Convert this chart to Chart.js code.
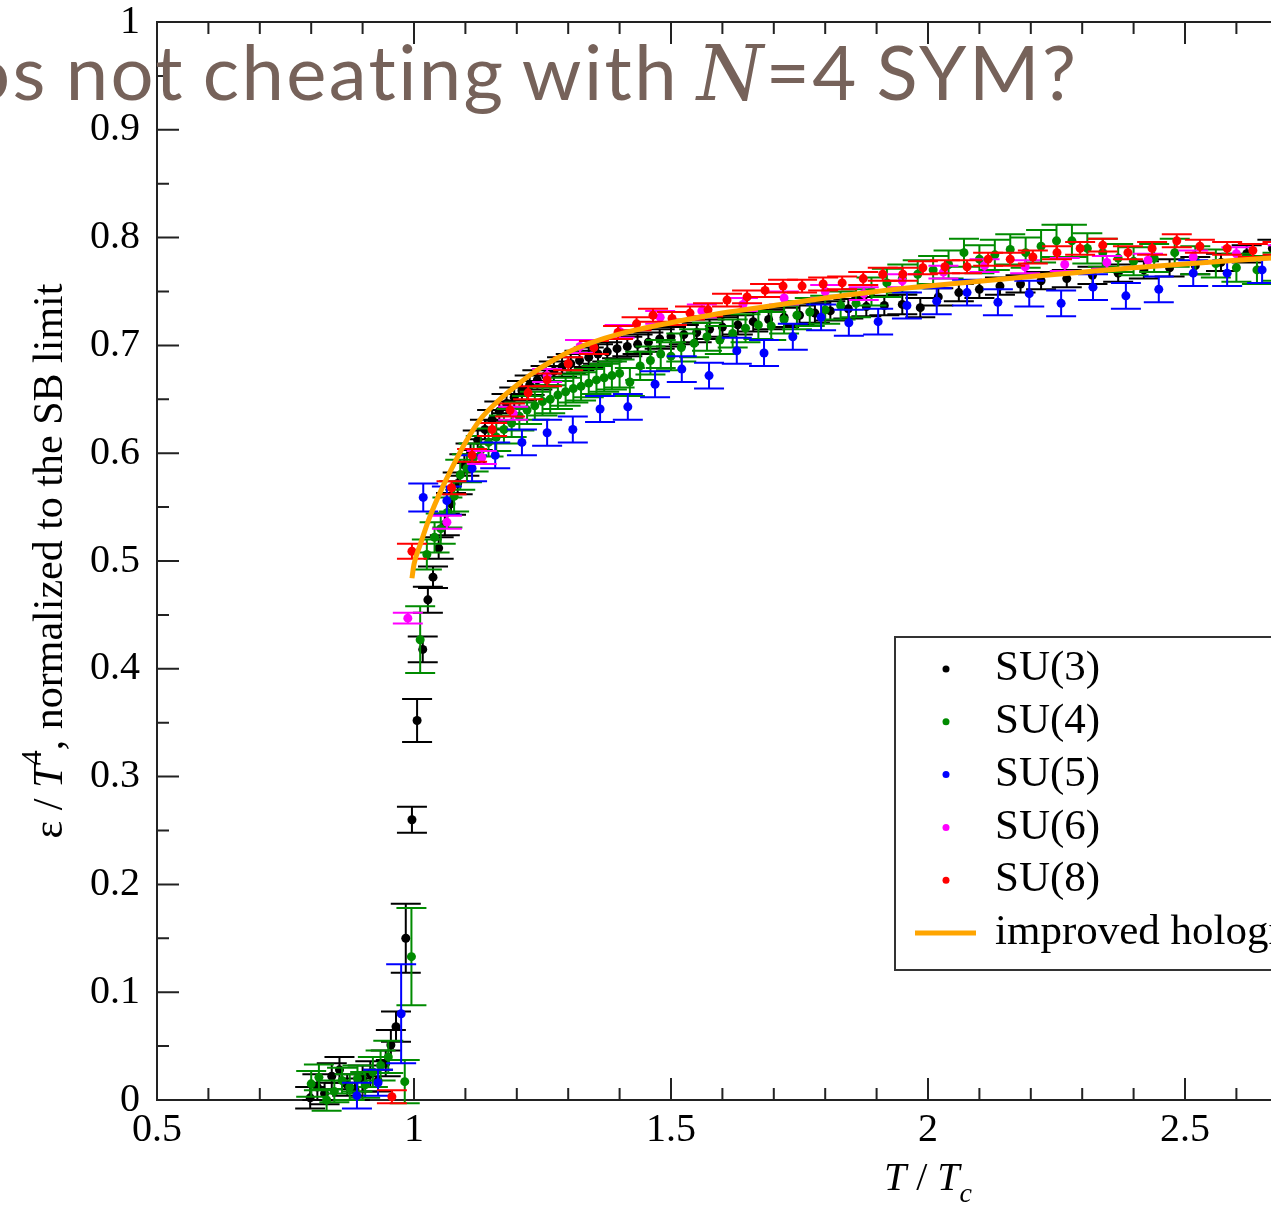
<!DOCTYPE html>
<html>
<head>
<meta charset="utf-8">
<script src="https://cdn.jsdelivr.net/npm/chart.js@4.4.1/dist/chart.umd.min.js"></script>
<style>
  html, body { margin: 0; padding: 0; background: #fff; overflow: hidden; }
  #plot { position: absolute; left: 0; top: 0; }
  #headline {
    position: absolute; left: -33px; top: 33px;
    font-family: Lato, "Open Sans", sans-serif; font-size: 76px; line-height: 76px;
    color: #76625a; white-space: nowrap; letter-spacing: 2.4px; word-spacing: -4px;
  }
  #headline i { font-family: "DejaVu Serif", serif; font-weight: 300; }
</style>
</head>
<body>
<canvas id="plot" width="1729" height="1207"></canvas>
<div id="headline">os not cheating with <i>N</i>=4 SYM?</div>
<script>
// tick positions
const xTicks = [0.5, 1, 1.5, 2, 2.5, 3, 3.5];
const yTicks = [0, 0.1, 0.2, 0.3, 0.4, 0.5, 0.6, 0.7, 0.8, 0.9, 1];

// SU(3)
const su3T = [0.798,0.812,0.826,0.84,0.855,0.87,0.885,0.90,0.915,0.93,0.945,0.955,0.965,0.984,0.996,1.006,1.017,1.027,1.037,1.048,
  1.06,1.072,1.085,1.098,1.11,1.124,1.138,1.152,1.166,1.18,1.195,1.21,1.225,1.24,1.256,1.272,1.288,1.305,1.322,1.34,
  1.358,1.376,1.395,1.415,1.435,1.456,1.478,1.50,1.525,1.55,1.575,1.60,1.63,1.66,1.69,1.72,1.75,1.78,1.81,1.845,
  1.88,1.915,1.95,1.985,2.02,2.06,2.10,2.14,2.18,2.22,2.27,2.32,2.37,2.42,2.47,2.52,2.57,2.62,2.67,2.72];
const su3E = [0.002,0.012,0.006,0.022,0.028,0.014,0.010,0.020,0.024,0.018,0.034,0.051,0.068,0.150,0.260,0.352,0.418,0.464,0.485,0.512,
  0.534,0.553,0.572,0.589,0.600,0.612,0.622,0.631,0.639,0.646,0.652,0.658,0.663,0.668,0.672,0.676,0.680,0.683,0.686,0.689,
  0.692,0.694,0.697,0.699,0.701,0.703,0.706,0.708,0.710,0.712,0.715,0.717,0.719,0.722,0.724,0.726,0.728,0.730,0.732,0.734,
  0.736,0.737,0.738,0.735,0.745,0.749,0.752,0.755,0.757,0.760,0.762,0.765,0.767,0.770,0.772,0.774,0.777,0.785,0.790,0.782];
const su3Err = [0.010,0.012,0.010,0.012,0.012,0.010,0.010,0.012,0.012,0.010,0.012,0.014,0.014,0.032,0.012,0.020,0.012,0.012,0.010,0.010,
  0.010,0.010,0.010,0.010,0.009,0.009,0.009,0.009,0.009,0.009,0.009,0.009,0.009,0.009,0.009,0.009,0.009,0.009,0.009,0.009,
  0.009,0.009,0.009,0.009,0.009,0.009,0.009,0.009,0.009,0.009,0.009,0.009,0.009,0.009,0.009,0.009,0.009,0.009,0.009,0.009,
  0.009,0.009,0.009,0.009,0.008,0.008,0.008,0.008,0.008,0.008,0.008,0.008,0.008,0.008,0.008,0.008,0.008,0.008,0.008,0.008];

// SU(4)
const su4T = [0.80,0.815,0.83,0.845,0.86,0.875,0.89,0.905,0.92,0.935,0.95,0.982,0.995,1.012,1.025,1.04,1.052,1.065,1.078,1.09,
  1.103,1.116,1.13,1.145,1.16,1.175,1.19,1.205,1.22,1.235,1.25,1.265,1.28,1.295,1.31,1.325,1.34,1.355,1.37,1.385,
  1.40,1.42,1.44,1.46,1.48,1.50,1.52,1.545,1.57,1.595,1.62,1.645,1.67,1.695,1.72,1.745,1.77,1.80,1.83,1.86,
  1.89,1.92,1.95,1.98,2.01,2.04,2.07,2.10,2.13,2.16,2.19,2.22,2.25,2.28,2.31,2.34,2.37,2.40,2.44,2.48,
  2.52,2.56,2.60,2.64,2.68,2.72];
const su4E = [0.015,0.021,0.000,0.008,0.018,0.012,0.020,0.014,0.026,0.032,0.040,0.017,0.133,0.427,0.506,0.522,0.530,0.545,0.560,0.580,
  0.586,0.596,0.603,0.610,0.615,0.622,0.628,0.634,0.640,0.644,0.648,0.650,0.654,0.657,0.660,0.662,0.665,0.668,0.670,0.672,
  0.674,0.666,0.681,0.686,0.692,0.690,0.698,0.702,0.708,0.705,0.711,0.716,0.719,0.718,0.724,0.728,0.731,0.733,0.737,0.739,
  0.750,0.758,0.762,0.766,0.770,0.775,0.786,0.780,0.784,0.789,0.786,0.792,0.797,0.797,0.790,0.786,0.781,0.778,0.781,0.786,
  0.779,0.776,0.772,0.770,0.773,0.771];
const su4Err = [0.012,0.012,0.010,0.010,0.012,0.012,0.012,0.012,0.014,0.014,0.015,0.020,0.045,0.031,0.014,0.014,0.014,0.014,0.014,0.014,
  0.013,0.013,0.013,0.013,0.013,0.013,0.013,0.013,0.013,0.013,0.013,0.013,0.013,0.013,0.013,0.013,0.013,0.013,0.013,0.013,
  0.013,0.013,0.013,0.013,0.013,0.013,0.013,0.013,0.013,0.013,0.013,0.013,0.013,0.013,0.013,0.013,0.013,0.013,0.013,0.013,
  0.013,0.013,0.013,0.013,0.013,0.013,0.013,0.013,0.014,0.014,0.014,0.015,0.015,0.015,0.014,0.013,0.013,0.013,0.013,0.013,
  0.013,0.013,0.013,0.013,0.013,0.013];

// SU(5)
const su5T = [0.889,0.930,0.975,1.018,1.064,1.113,1.158,1.210,1.259,1.309,1.362,1.416,1.469,1.521,1.574,1.628,1.681,1.737,1.792,1.846,
  1.903,1.959,2.017,2.076,2.136,2.197,2.259,2.321,2.385,2.449,2.516,2.582,2.650,2.72];
const su5E = [0.004,0.016,0.080,0.559,0.556,0.586,0.598,0.610,0.619,0.622,0.641,0.643,0.664,0.678,0.672,0.695,0.693,0.708,0.726,0.721,
  0.722,0.737,0.741,0.749,0.740,0.748,0.739,0.754,0.746,0.752,0.767,0.767,0.770,0.772];
const su5Err = [0.012,0.012,0.046,0.013,0.013,0.012,0.012,0.012,0.012,0.012,0.012,0.012,0.012,0.012,0.012,0.012,0.012,0.012,0.012,0.012,
  0.012,0.012,0.012,0.012,0.012,0.012,0.012,0.012,0.012,0.012,0.012,0.012,0.012,0.012];

// SU(6)
const su6T = [0.988,1.064,1.132,1.193,1.259,1.323,1.40,1.479,1.56,1.64,1.72,1.80,1.875,1.95,2.03,2.11,2.189,2.266,2.348,2.428,
  2.516,2.60,2.69];
const su6E = [0.447,0.536,0.596,0.637,0.672,0.699,0.713,0.726,0.732,0.738,0.744,0.750,0.748,0.760,0.768,0.774,0.773,0.775,0.777,0.779,
  0.782,0.785,0.787];
const su6Err = [0.005,0.006,0.006,0.006,0.006,0.006,0.006,0.006,0.006,0.006,0.006,0.006,0.006,0.006,0.006,0.006,0.006,0.006,0.006,0.006,
  0.006,0.006,0.006];

// SU(8)
const su8T = [0.957,0.996,1.073,1.113,1.152,1.187,1.222,1.259,1.30,1.35,1.397,1.433,1.465,1.502,1.537,1.572,1.609,1.648,1.683,1.718,
  1.755,1.796,1.833,1.874,1.912,1.951,1.990,2.033,2.076,2.117,2.16,2.204,2.251,2.296,2.34,2.389,2.436,2.484,2.529,2.582,
  2.632,2.68];
const su8E = [0.003,0.509,0.568,0.598,0.622,0.640,0.656,0.668,0.683,0.698,0.712,0.720,0.728,0.725,0.730,0.733,0.742,0.745,0.751,0.755,
  0.755,0.757,0.758,0.762,0.766,0.766,0.772,0.773,0.773,0.780,0.780,0.782,0.786,0.790,0.793,0.786,0.790,0.797,0.792,0.790,
  0.788,0.790];
const su8Err = [0.006,0.007,0.006,0.006,0.006,0.006,0.006,0.006,0.006,0.006,0.006,0.006,0.006,0.006,0.006,0.006,0.006,0.006,0.006,0.006,
  0.006,0.006,0.006,0.006,0.006,0.006,0.006,0.006,0.006,0.006,0.006,0.006,0.006,0.006,0.006,0.006,0.006,0.006,0.006,0.006,
  0.006,0.006];

// improved holographic QCD curve
const holoT = [0.996,1.00,1.012,1.03,1.056,1.08,1.10,1.13,1.165,1.20,1.23,1.27,1.31,1.36,1.42,1.50,1.60,1.70,1.80,1.90,
  2.00,2.20,2.40,2.60,2.80,3.00,3.20,3.40];
const holoE = [0.484,0.497,0.515,0.540,0.569,0.592,0.610,0.632,0.649,0.663,0.674,0.686,0.696,0.705,0.713,0.721,0.730,0.737,0.744,0.750,
  0.755,0.764,0.772,0.779,0.785,0.790,0.794,0.798];

const pts = (xs, ys) => xs.map((x, i) => ({ x: x, y: ys[i] }));

const serif = '"Liberation Serif", "Times New Roman", serif';

// vertical error bars with wide caps, drawn just under each dataset's points
const errorBars = {
  id: 'errorBars',
  beforeDatasetDraw(chart, args) {
    const ds = chart.data.datasets[args.index];
    if (!ds.errors) return;
    const ys = chart.scales.y;
    const ctx = chart.ctx;
    ctx.save();
    ctx.strokeStyle = ds.borderColor;
    ctx.lineWidth = 2;
    args.meta.data.forEach((pt, i) => {
      const v = ds.data[i].y, e = ds.errors[i];
      const top = ys.getPixelForValue(v + e);
      const bot = ys.getPixelForValue(v - e);
      ctx.beginPath();
      ctx.moveTo(pt.x, top); ctx.lineTo(pt.x, bot);
      ctx.moveTo(pt.x - 15, top); ctx.lineTo(pt.x + 15, top);
      ctx.moveTo(pt.x - 15, bot); ctx.lineTo(pt.x + 15, bot);
      ctx.stroke();
    });
    ctx.restore();
  }
};

// box frame with inward ticks on all sides
const frame = {
  id: 'frame',
  beforeDatasetsDraw(chart) {
    const { ctx, chartArea: a, scales: { x, y } } = chart;
    ctx.save();
    ctx.strokeStyle = '#222';
    ctx.lineWidth = 2;
    ctx.strokeRect(a.left, a.top, a.right - a.left, a.bottom - a.top);
    ctx.beginPath();
    for (let v = 5; v <= 35; v++) {
      const px = x.getPixelForValue(v / 10);
      const len = v % 5 === 0 ? 22 : 12;
      ctx.moveTo(px, a.bottom); ctx.lineTo(px, a.bottom - len);
      ctx.moveTo(px, a.top); ctx.lineTo(px, a.top + len);
    }
    for (let v = 0; v <= 20; v++) {
      const py = y.getPixelForValue(v / 20);
      const len = v % 2 === 0 ? 22 : 12;
      ctx.moveTo(a.left, py); ctx.lineTo(a.left + len, py);
      ctx.moveTo(a.right, py); ctx.lineTo(a.right - len, py);
    }
    ctx.stroke();
    ctx.restore();
  }
};

// legend box inside the plot
const legendBox = {
  id: 'legendBox',
  afterDraw(chart) {
    const ctx = chart.ctx;
    const items = chart.data.datasets.slice().sort((a, b) => b.order - a.order);
    const left = 895, top = 637, rowH = 52.8;
    ctx.save();
    ctx.fillStyle = '#fff';
    ctx.fillRect(left, top, 620, 333);
    ctx.strokeStyle = '#333';
    ctx.lineWidth = 2;
    ctx.strokeRect(left, top, 620, 333);
    ctx.font = '43px ' + serif;
    ctx.textBaseline = 'middle';
    items.forEach((ds, i) => {
      const cy = top + 32 + i * rowH;
      if (ds.errors) {
        ctx.fillStyle = ds.backgroundColor;
        ctx.beginPath();
        ctx.arc(946, cy, 3.5, 0, Math.PI * 2);
        ctx.fill();
      } else {
        ctx.strokeStyle = ds.borderColor;
        ctx.lineWidth = 5;
        ctx.beginPath();
        ctx.moveTo(915, cy); ctx.lineTo(976, cy);
        ctx.stroke();
      }
      ctx.fillStyle = '#000';
      ctx.fillText(ds.label, 995, cy);
    });
    ctx.restore();
  }
};

// axis titles with italics, superscript and subscript
const axisTitles = {
  id: 'axisTitles',
  afterDraw(chart) {
    const ctx = chart.ctx;
    const run = (parts, cx, cy, angle) => {
      ctx.save();
      ctx.translate(cx, cy);
      ctx.rotate(angle);
      let w = 0;
      parts.forEach(p => { ctx.font = p.f; w += ctx.measureText(p.t).width; });
      let px = -w / 2;
      ctx.fillStyle = '#000';
      ctx.textBaseline = 'alphabetic';
      parts.forEach(p => {
        ctx.font = p.f;
        ctx.fillText(p.t, px, p.dy || 0);
        px += ctx.measureText(p.t).width;
      });
      ctx.restore();
    };
    const r = '40px ' + serif, it = 'italic 40px ' + serif, sm = '28px ' + serif, smi = 'italic 28px ' + serif;
    run([{ t: 'T', f: it }, { t: ' / ', f: r }, { t: 'T', f: it }, { t: 'c', f: smi, dy: 12 }], 928, 1190, 0);
    const r2 = '42px ' + serif, it2 = 'italic 42px ' + serif, sm2 = '29px ' + serif;
    run([{ t: 'ε / ', f: r2 }, { t: 'T', f: it2 }, { t: '4', f: sm2, dy: -21 }, { t: ', normalized to the SB limit', f: r2 }],
      62, 561, -Math.PI / 2);
  }
};

const dot = (label, color, xs, ys, errs, order) => ({
  label: label, data: pts(xs, ys), errors: errs,
  backgroundColor: color, borderColor: color, borderWidth: 0,
  pointRadius: 4.5, pointHoverRadius: 4.5, order: order, clip: false
});

new Chart(document.getElementById('plot'), {
  type: 'scatter',
  data: {
    datasets: [
      {
        label: 'improved holographic QCD', type: 'line', data: pts(holoT, holoE),
        borderColor: '#ffa500', backgroundColor: '#ffa500', borderWidth: 5,
        pointRadius: 0, showLine: true, cubicInterpolationMode: 'monotone', order: 0
      },
      dot('SU(8)', '#ff0000', su8T, su8E, su8Err, 1),
      dot('SU(6)', '#ff00ff', su6T, su6E, su6Err, 2),
      dot('SU(5)', '#0000ff', su5T, su5E, su5Err, 3),
      dot('SU(4)', '#008b00', su4T, su4E, su4Err, 4),
      dot('SU(3)', '#000000', su3T, su3E, su3Err, 5)
    ]
  },
  options: {
    responsive: false,
    animation: false,
    layout: { padding: { top: 22, right: 30, left: 0, bottom: 0 } },
    plugins: { legend: { display: false }, tooltip: { enabled: false } },
    scales: {
      x: {
        type: 'linear', min: 0.5, max: 3.5,
        grid: { display: false, drawTicks: false },
        border: { display: false },
        afterBuildTicks: s => { s.ticks = xTicks.map(v => ({ value: v })); },
        ticks: {
          padding: 10, color: '#000', maxRotation: 0,
          font: { family: serif, size: 40, lineHeight: 1 },
          callback: v => String(v)
        },
        afterFit: s => { s.height = 107; s.paddingLeft = 0; s.paddingRight = 0; }
      },
      y: {
        min: 0, max: 1,
        grid: { display: false, drawTicks: false },
        border: { display: false },
        afterBuildTicks: s => { s.ticks = yTicks.map(v => ({ value: v })); },
        ticks: {
          padding: 17, color: '#000',
          font: { family: serif, size: 40, lineHeight: 1 },
          callback: v => String(v)
        },
        afterFit: s => { s.width = 157; s.paddingTop = 0; s.paddingBottom = 0; }
      }
    }
  },
  plugins: [errorBars, frame, legendBox, axisTitles]
});
</script>
</body>
</html>
